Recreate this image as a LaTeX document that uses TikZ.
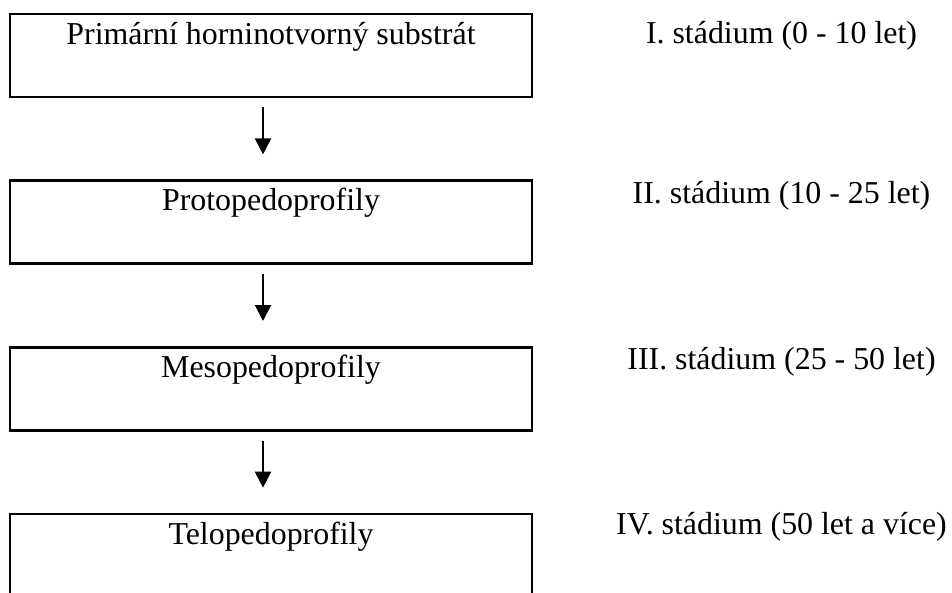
\documentclass[tikz,border=0pt]{standalone}
\usepackage{fontspec}
\setmainfont{Liberation Serif}
\usepackage{tikz}
\usetikzlibrary{arrows.meta}

\begin{document}
\begin{tikzpicture}[x=0.02cm, y=-0.02cm,
  every node/.style={font=\fontsize{18.15pt}{22pt}\selectfont},
  stagebox/.style={draw=black, line width=1.5pt, rectangle, inner sep=0pt,
    minimum width=10.44cm, text height=0.6cm, text depth=1.06cm},
  period/.style={anchor=base, inner sep=0pt},
  arr/.style={line width=1.1pt, -{Triangle[width=0.32cm, length=0.32cm]}}]
\useasboundingbox (0,0) rectangle (952,592);
\clip (0,0) rectangle (952,592);

\node[stagebox] (s1) at (271,55.5) {Primární horninotvorný substrát};
\node[stagebox] (s2) at (271,222.2) {Protopedoprofily};
\node[stagebox] (s3) at (271,388.8) {Mesopedoprofily};
\node[stagebox] (s4) at (271,555.5) {Telopedoprofily};

\node[period] (p1) at (781.5,43) {I. stádium (0 - 10 let)};
\node[period] (p2) at (781.5,203) {II. stádium (10 - 25 let)};
\node[period] (p3) at (781.5,369) {III. stádium (25 - 50 let)};
\node[period] (p4) at (781.5,534) {IV. stádium (50 let a více)};

\draw[arr] ([xshift=-0.16cm, yshift=-0.18cm]s1.south) -- ([xshift=-0.16cm, yshift=0.5cm]s2.north);
\draw[arr] ([xshift=-0.16cm, yshift=-0.18cm]s2.south) -- ([xshift=-0.16cm, yshift=0.5cm]s3.north);
\draw[arr] ([xshift=-0.16cm, yshift=-0.18cm]s3.south) -- ([xshift=-0.16cm, yshift=0.5cm]s4.north);
\end{tikzpicture}
\end{document}
